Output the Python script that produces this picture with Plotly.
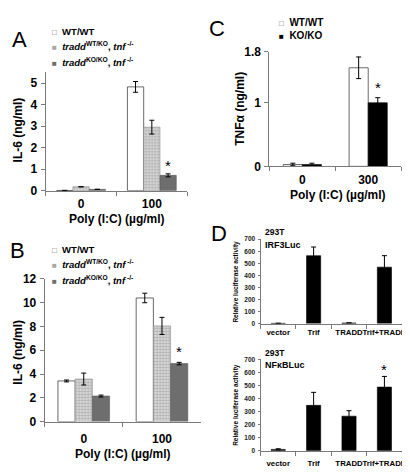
import plotly.graph_objects as go

W, H = 410, 473
def fx(px): return px / W
def fy(py): return 1 - py / H

FONT = "Liberation Sans, Arial, sans-serif"

# ---------------- data ----------------
dose_a = ["0", "100"]
a_wt = [0.01, 4.82];  a_wt_err = [0.0, 0.25]
a_het = [0.18, 2.95]; a_het_err = [0.0, 0.32]
a_ko = [0.06, 0.71];  a_ko_err = [0.0, 0.07]

dose_b = ["0", "100"]
b_wt = [3.42, 10.4];  b_wt_err = [0.08, 0.4]
b_het = [3.58, 8.05]; b_het_err = [0.5, 0.72]
b_ko = [2.15, 4.88];  b_ko_err = [0.08, 0.1]

dose_c = ["0", "300"]
c_wt = [0.03, 1.55];  c_wt_err = [0.02, 0.17]
c_ko = [0.03, 1.0];   c_ko_err = [0.02, 0.08]

constructs = ["vector", "Trif", "TRADD", "Trif+TRADD"]
irf3 = [2, 563, 5, 468];     irf3_err = [0, 72, 0, 95]
nfkb = [10, 348, 265, 488];  nfkb_err = [5, 100, 42, 82]

legend_ab = ["WT/WT",
             "<i>tradd</i><sup>WT/KO</sup>, <i>tnf</i><sup> -/-</sup>",
             "<i>tradd</i><sup>KO/KO</sup>, <i>tnf</i><sup> -/-</sup>"]
legend_c = ["WT/WT", "KO/KO"]

# ---------------- styles ----------------
OUT = "#444444"
WHITE = dict(color="white", line=dict(color=OUT, width=0.8))
HET = dict(color="#b0b0b0", line=dict(color="#8a8a8a", width=0.6),
           pattern=dict(shape="+", fgcolor="#7d7d7d", bgcolor="#d6d6d6", size=3, solidity=0.35))
KO = dict(color="#6e6e6e", line=dict(color="#5a5a5a", width=0.6))
BLACK = dict(color="black", line=dict(color="black", width=0.6))

def err(a):
    return dict(type="data", array=a, color="black", thickness=1, width=2.5)

fig = go.Figure()

def add_group(xname, yname, cats, series, w):
    n = len(series)
    for i, (vals, errs, mk) in enumerate(series):
        fig.add_trace(go.Bar(x=cats, y=vals, error_y=err(errs), marker=mk,
                             width=w, offset=-n * w / 2 + i * w,
                             xaxis=xname, yaxis=yname, showlegend=False))

WA, WB, WC, WD = 0.23, 0.22, 0.29, 0.40
add_group("x", "y", dose_a, [(a_wt, a_wt_err, WHITE), (a_het, a_het_err, HET), (a_ko, a_ko_err, KO)], WA)
add_group("x2", "y2", dose_b, [(b_wt, b_wt_err, WHITE), (b_het, b_het_err, HET), (b_ko, b_ko_err, KO)], WB)
add_group("x3", "y3", dose_c, [(c_wt, c_wt_err, WHITE), (c_ko, c_ko_err, BLACK)], WC)
add_group("x4", "y4", constructs, [(irf3, irf3_err, BLACK)], WD)
add_group("x5", "y5", constructs, [(nfkb, nfkb_err, BLACK)], WD)

AX = dict(showline=True, linecolor="#7a7a7a", linewidth=1, ticks="outside",
          tickcolor="#7a7a7a", ticklen=4, showgrid=False, zeroline=False,
          tickfont=dict(family=FONT, size=12, color="black", weight="bold"))

def xcat(domain, rng, standoff, size=12):
    d = dict(AX, type="category", domain=domain, range=rng, tickson="boundaries",
             ticklabelstandoff=standoff, tickangle=0)
    d["tickfont"] = dict(family=FONT, size=size, color="black", weight="bold")
    return d

def ylin(domain, rng, **kw):
    d = dict(AX, domain=domain, range=rng, ticklabelstandoff=1)
    d.update(kw)
    return d

DTICK = dict(family=FONT, size=6.5, color="#222", weight="bold")
fig.update_layout(
    xaxis=xcat([fx(38), fx(181)], [-0.5, 1.5], 2),
    yaxis=ylin([fy(181), fy(59)], [0, 5.5], dtick=1),
    xaxis2=xcat([fx(37), fx(195)], [-0.5, 1.5], 6),
    yaxis2=ylin([fy(419), fy(272)], [0, 12], dtick=2),
    xaxis3=xcat([fx(264), fx(397)], [-0.5, 1.5], 2),
    yaxis3=ylin([fy(156), fy(38)], [0, 1.8], tickvals=[0, 1, 1.8],
                ticktext=["0", "1", "1.8"]),
    xaxis4=xcat([fx(255), fx(398)], [-0.5, 3.5], 1, size=7.8),
    yaxis4=ylin([fy(318), fy(231)], [0, 700], dtick=100, tickfont=DTICK, ticklen=2),
    xaxis5=xcat([fx(255), fx(398)], [-0.5, 3.5], 5, size=7.8),
    yaxis5=ylin([fy(449), fy(355)], [0, 700], dtick=100, tickfont=DTICK, ticklen=2),
)
fig.update_layout(xaxis=dict(anchor="y"), xaxis2=dict(anchor="y2"), xaxis3=dict(anchor="y3"),
                  xaxis4=dict(anchor="y4"), xaxis5=dict(anchor="y5"),
                  yaxis=dict(anchor="x"), yaxis2=dict(anchor="x2"), yaxis3=dict(anchor="x3"),
                  yaxis4=dict(anchor="x4"), yaxis5=dict(anchor="x5"))

ann = []
def text(x, y, t, size, angle=0, xanchor="center", yanchor="middle", bold=True, color="black"):
    ann.append(dict(x=fx(x), y=fy(y), xref="paper", yref="paper", text=t, showarrow=False,
                    textangle=angle, xanchor=xanchor, yanchor=yanchor,
                    font=dict(family=FONT, size=size, color=color,
                              weight="bold" if bold else "normal")))

# panel letters
text(12, 25, "A", 22, bold=False)
text(10, 243, "B", 22, bold=False)
text(211, 14, "C", 22, bold=False)
text(213, 225, "D", 22, bold=False)

# axis titles
text(10, 118, "IL-6 (ng/ml)", 12, angle=-90)
text(110, 210, "Poly (I:C) (\u00b5g/ml)", 12)
text(10, 347, "IL-6 (ng/ml)", 12, angle=-90)
text(116, 452, "Poly (I:C) (\u00b5g/ml)", 12)
text(234, 97, "TNF\u03b1 (ng/ml)", 12, angle=-90)
text(333, 185, "Poly (I:C) (\u00b5g/ml)", 12)
text(230, 275, "Relative luciferase activity", 6.5, angle=-90)
text(230, 402, "Relative luciferase activity", 6.5, angle=-90)

# D headers
text(258, 224, "293T", 8.5, xanchor="left")
text(258, 237, "IRF3Luc", 9, xanchor="left")
text(258, 348, "293T", 8.5, xanchor="left")
text(258, 361, "NF\u03baBLuc", 9, xanchor="left")

# legends
def legend_rows(x, ys, labels, colors, size=9.5):
    for y, lab, col in zip(ys, labels, colors):
        glyph = "\u25a1" if col == "white" else "\u25a0"
        gcol = "#666" if col == "white" else col
        t = f'<span style="color:{gcol};font-size:8px">{glyph}</span>  {lab}'
        text(x, y, t, size, xanchor="left")

legend_rows(42, [17, 32, 48], legend_ab, ["white", "#a8a8a8", "#6e6e6e"])
legend_rows(42, [242, 257, 273], legend_ab, ["white", "#a8a8a8", "#6e6e6e"])
legend_rows(272, [8, 21], legend_c, ["white", "black"], size=10)

# significance stars (on the data axes)
def star(xref, yref, xval, yval, shift):
    ann.append(dict(x=xval, y=yval, xref=xref, yref=yref, text="*", showarrow=False,
                    yanchor="bottom", yshift=shift,
                    font=dict(family=FONT, size=15, color="black")))

star("x", "y", 1 + WA, a_ko[1] + a_ko_err[1], -2)
star("x2", "y2", 1 + WB, b_ko[1] + b_ko_err[1], 0)
star("x3", "y3", 1 + WC / 2, c_ko[1] + c_ko_err[1], 0)
star("x5", "y5", 3, nfkb[3] + nfkb_err[3], -4)

fig.update_layout(annotations=ann, width=W, height=H, margin=dict(l=0, r=0, t=0, b=0),
                  plot_bgcolor="white", paper_bgcolor="white", barmode="overlay",
                  font=dict(family=FONT, color="black"))

fig.write_html("out.html")
